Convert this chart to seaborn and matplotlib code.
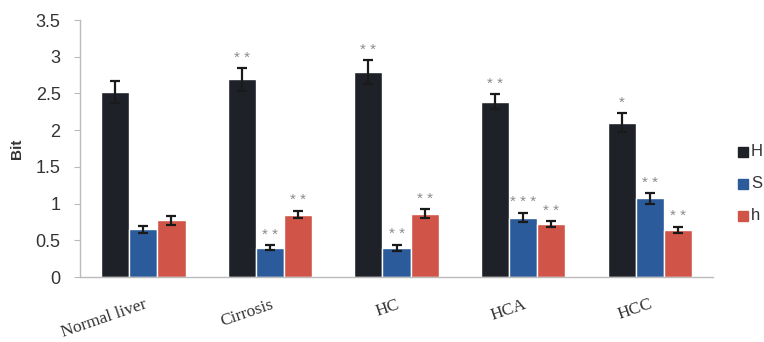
import pandas as pd
import numpy as np
import matplotlib.pyplot as plt
import seaborn as sns

# values
groups = ["Normal liver", "Cirrosis", "HC", "HCA", "HCC"]
series = ["H", "S", "h"]
h_vals = [2.52, 2.69, 2.79, 2.39, 2.10]
s_vals = [0.65, 0.40, 0.40, 0.81, 1.07]
hh_vals = [0.77, 0.85, 0.86, 0.72, 0.64]
h_err = [0.15, 0.15, 0.16, 0.10, 0.13]
s_err = [0.05, 0.03, 0.04, 0.06, 0.07]
hh_err = [0.06, 0.05, 0.06, 0.04, 0.04]
h_sig = ["", "**", "**", "**", "*"]
s_sig = ["", "**", "**", "***", "**"]
hh_sig = ["", "**", "**", "**", "**"]

colors = ["#1e2128", "#2b5b9b", "#d05548"]

df = pd.DataFrame({
    "group": groups * 3,
    "series": [series[0]] * 5 + [series[1]] * 5 + [series[2]] * 5,
    "value": h_vals + s_vals + hh_vals,
})
errs = [h_err, s_err, hh_err]
sigs = [h_sig, s_sig, hh_sig]

sns.set_style("white")
plt.rcParams["font.family"] = ["Liberation Sans", "DejaVu Sans"]

fig = plt.figure(figsize=(7.64, 3.42), dpi=100)
ax = fig.add_axes([0.1047, 0.19, 0.8286, 0.7515])

sns.barplot(data=df, x="group", y="value", hue="series", palette=colors,
            errorbar=None, width=0.667, gap=0, saturation=1, ax=ax, legend=False)

for cont, err, sig in zip(ax.containers, errs, sigs):
    xs = [b.get_x() + b.get_width() / 2 for b in cont]
    ys = [b.get_height() for b in cont]
    ax.errorbar(xs, ys, yerr=err, fmt="none", ecolor="#1a1a1a",
                elinewidth=1.6, capsize=3.5, capthick=1.6)
    for x, y, e, s in zip(xs, ys, err, sig):
        if s:
            ax.text(x, y + e + 0.05, " ".join(s), ha="center", va="bottom",
                    fontsize=11, color="#8a8a8a")

ax.set_ylim(0, 3.5)
ax.set_xlim(-0.5, 4.5)
ax.set_yticks(np.arange(0, 3.51, 0.5))
ax.set_yticklabels(["0", "0.5", "1", "1.5", "2", "2.5", "3", "3.5"],
                   fontsize=13, color="#333333")
ax.set_xticks(np.arange(-0.5, 4.6, 1))
ax.set_xticklabels([])
ax.set_xticks(range(5), minor=True)
ax.set_xticklabels(groups, minor=True, rotation=19, ha="right",
                   rotation_mode="anchor", family="Liberation Serif",
                   fontsize=12.5, color="#333333")
ax.tick_params(axis="x", which="minor", length=0, pad=14)
ax.tick_params(axis="x", which="major", length=4, color="#bbbbbb", direction="out")
ax.tick_params(axis="y", length=4, color="#bbbbbb", direction="out", left=True, pad=10)
ax.set_xlabel("")
ax.set_ylabel("Bit", fontsize=11, fontweight="bold", color="#333333", labelpad=8)
for sp in ["top", "right"]:
    ax.spines[sp].set_visible(False)
for sp in ["left", "bottom"]:
    ax.spines[sp].set_color("#bbbbbb")
    ax.spines[sp].set_linewidth(1)

# legend at the right edge
for i, (lab, c) in enumerate(zip(series, colors)):
    yy = 1 - (152 + 32 * i) / 342
    fig.patches.append(plt.Rectangle((738 / 764, yy - 5 / 342), 10 / 764, 10 / 342,
                                     transform=fig.transFigure, color=c))
    fig.text(751 / 764, yy, lab, va="center", ha="left", fontsize=12, color="#333333")

plt.savefig("out.png", dpi=100)
